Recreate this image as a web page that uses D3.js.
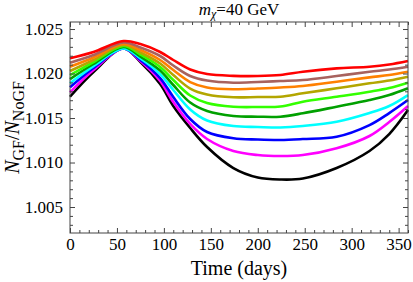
<!DOCTYPE html>
<html>
<head>
<meta charset="utf-8">
<script src="https://cdn.jsdelivr.net/npm/d3@7"></script>
<style>
  body { margin: 0; background: #fff; }
  text { font-family: "Liberation Serif", "DejaVu Serif", serif; fill: #000; }
</style>
</head>
<body>
<svg id="chart" width="413" height="282"></svg>
<script>
const days = [0, 25, 57, 75, 96, 110, 128, 146, 174, 200, 224, 248, 284, 319, 340, 360];

// N_GF / N_NoGF, one array per curve (top to bottom)
const redCurve     = [1.02171, 1.02242, 1.02365, 1.02331, 1.02242, 1.02152, 1.02045, 1.01994, 1.01974, 1.01972, 1.01983, 1.02020, 1.02058, 1.02076, 1.02101, 1.02140];
const brownCurve   = [1.02121, 1.02208, 1.02348, 1.02292, 1.02197, 1.02090, 1.01972, 1.01921, 1.01897, 1.01905, 1.01916, 1.01927, 1.01972, 1.02020, 1.02045, 1.02076];
const orangeCurve  = [1.02076, 1.02180, 1.02332, 1.02264, 1.02152, 1.02039, 1.01904, 1.01843, 1.01823, 1.01832, 1.01843, 1.01860, 1.01908, 1.01957, 1.01983, 1.02020];
const oliveCurve   = [1.02028, 1.02152, 1.02320, 1.02236, 1.02112, 1.01983, 1.01831, 1.01764, 1.01733, 1.01736, 1.01739, 1.01778, 1.01834, 1.01890, 1.01921, 1.01964];
const greenCurve   = [1.01983, 1.02129, 1.02309, 1.02213, 1.02073, 1.01927, 1.01753, 1.01669, 1.01627, 1.01624, 1.01629, 1.01683, 1.01739, 1.01796, 1.01837, 1.01897];
const dkGreenCurve = [1.01938, 1.02107, 1.02298, 1.02191, 1.02034, 1.01871, 1.01674, 1.01579, 1.01523, 1.01515, 1.01515, 1.01553, 1.01627, 1.01702, 1.01758, 1.01834];
const cyanCurve    = [1.01890, 1.02084, 1.02281, 1.02169, 1.01994, 1.01815, 1.01596, 1.01472, 1.01410, 1.01399, 1.01393, 1.01410, 1.01458, 1.01556, 1.01635, 1.01758];
const blueCurve    = [1.01845, 1.02062, 1.02281, 1.02152, 1.01949, 1.01736, 1.01489, 1.01343, 1.01272, 1.01258, 1.01253, 1.01264, 1.01290, 1.01421, 1.01556, 1.01702];
const magentaCurve = [1.01789, 1.02039, 1.02281, 1.02140, 1.01916, 1.01680, 1.01433, 1.01264, 1.01129, 1.01084, 1.01073, 1.01084, 1.01160, 1.01298, 1.01455, 1.01635];
const blackCurve   = [1.01739, 1.02017, 1.02281, 1.02129, 1.01882, 1.01635, 1.01388, 1.01174, 1.00938, 1.00832, 1.00809, 1.00820, 1.00938, 1.01129, 1.01320, 1.01590];

const xTicks = [0, 50, 100, 150, 200, 250, 300, 350];
const yTicks = [1.005, 1.010, 1.015, 1.020, 1.025];

// drawn bottom first so the red curve ends up on top
const series = [
  { values: blackCurve,   color: "#000000" },
  { values: magentaCurve, color: "#ff00ff" },
  { values: blueCurve,    color: "#0000ff" },
  { values: cyanCurve,    color: "#00ffff" },
  { values: dkGreenCurve, color: "#00a000" },
  { values: greenCurve,   color: "#33ff00" },
  { values: oliveCurve,   color: "#b3a600" },
  { values: orangeCurve,  color: "#ff8000" },
  { values: brownCurve,   color: "#a8625e" },
  { values: redCurve,     color: "#ff0000" }
];

const svg = d3.select("#chart");
const mLeft = 70, mRight = 408, mTop = 22, mBottom = 233;

const x = d3.scaleLinear().domain([0, 360]).range([mLeft, mRight]);
const y = d3.scaleLinear().domain([1.00208, 1.02579]).range([mBottom, mTop]);

// curves
const line = d3.line()
  .x((d, i) => x(days[i]))
  .y(d => y(d))
  .curve(d3.curveCatmullRom.alpha(0.5));

svg.append("g")
  .selectAll("path")
  .data(series)
  .enter()
  .append("path")
  .attr("d", d => line(d.values))
  .attr("fill", "none")
  .attr("stroke", d => d.color)
  .attr("stroke-width", 2.6)
  .attr("stroke-linejoin", "round");

// frame
svg.append("rect")
  .attr("x", mLeft).attr("y", mTop)
  .attr("width", mRight - mLeft).attr("height", mBottom - mTop)
  .attr("fill", "none")
  .attr("stroke", "#444")
  .attr("stroke-width", 1);

// minor tick values
const xMinor = d3.range(0, 361, 10).filter(v => v % 50 !== 0);
const yMinor = d3.range(1003, 1026).map(v => v / 1000).filter(v => Math.round(v * 1000) % 5 !== 0);

function styleAxis(g) {
  g.select(".domain").remove();
  g.selectAll("line").attr("stroke", "#444");
  g.selectAll("text")
    .style("font-family", "'Liberation Serif', serif")
    .style("font-size", "17px")
    .attr("fill", "#000");
}

// bottom
svg.append("g").attr("transform", `translate(0,${mBottom})`)
  .call(d3.axisBottom(x).tickValues(xTicks).tickSize(-5).tickPadding(5).tickFormat(d3.format("d")))
  .call(styleAxis);
svg.append("g").attr("transform", `translate(0,${mBottom})`)
  .call(d3.axisBottom(x).tickValues(xMinor).tickSize(-3).tickFormat(""))
  .call(styleAxis);
// top
svg.append("g").attr("transform", `translate(0,${mTop})`)
  .call(d3.axisTop(x).tickValues(xTicks).tickSize(-5).tickFormat(""))
  .call(styleAxis);
svg.append("g").attr("transform", `translate(0,${mTop})`)
  .call(d3.axisTop(x).tickValues(xMinor).tickSize(-3).tickFormat(""))
  .call(styleAxis);
// left
svg.append("g").attr("transform", `translate(${mLeft},0)`)
  .call(d3.axisLeft(y).tickValues(yTicks).tickSize(-5).tickPadding(7).tickFormat(d3.format(".3f")))
  .call(styleAxis);
svg.append("g").attr("transform", `translate(${mLeft},0)`)
  .call(d3.axisLeft(y).tickValues(yMinor).tickSize(-3).tickFormat(""))
  .call(styleAxis);
// right
svg.append("g").attr("transform", `translate(${mRight},0)`)
  .call(d3.axisRight(y).tickValues(yTicks).tickSize(-5).tickFormat(""))
  .call(styleAxis);
svg.append("g").attr("transform", `translate(${mRight},0)`)
  .call(d3.axisRight(y).tickValues(yMinor).tickSize(-3).tickFormat(""))
  .call(styleAxis);

// x axis title
svg.append("text")
  .attr("x", (mLeft + mRight) / 2)
  .attr("y", 275)
  .attr("text-anchor", "middle")
  .style("font-size", "20px")
  .text("Time (days)");

// y axis title
const yTitle = svg.append("text")
  .attr("transform", `translate(19,${(mTop + mBottom) / 2}) rotate(-90)`)
  .attr("text-anchor", "middle")
  .style("font-size", "20px");
yTitle.append("tspan").style("font-style", "italic").text("N");
yTitle.append("tspan").attr("dy", 5).style("font-size", "16px").text("GF");
yTitle.append("tspan").attr("dy", -5).text("/");
yTitle.append("tspan").style("font-style", "italic").text("N");
yTitle.append("tspan").attr("dy", 5).style("font-size", "16px").text("NoGF");

// title
const title = svg.append("text")
  .attr("x", (mLeft + mRight) / 2)
  .attr("y", 15)
  .attr("text-anchor", "middle")
  .style("font-size", "17px");
title.append("tspan").style("font-style", "italic").text("m");
title.append("tspan").attr("dy", 3).style("font-size", "12px").style("font-style", "italic").text("χ");
title.append("tspan").attr("dy", -3).text("=40 GeV");
</script>
</body>
</html>
